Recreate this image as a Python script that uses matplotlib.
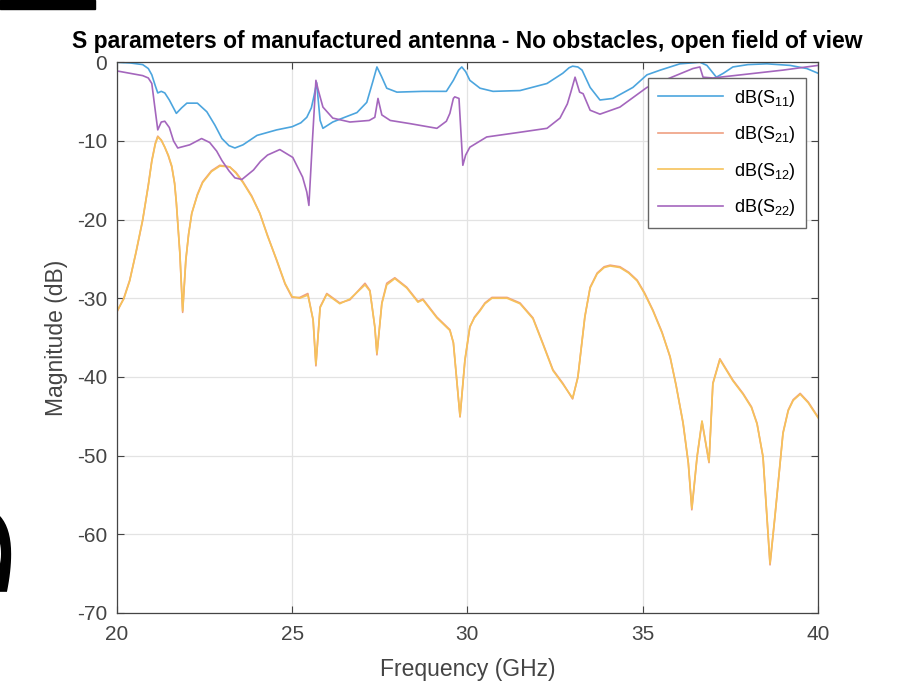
import matplotlib
matplotlib.use("Agg")
import matplotlib.pyplot as plt
from matplotlib.patches import Rectangle

plt.rcParams['font.family'] = ['Liberation Sans', 'DejaVu Sans']
plt.rcParams['mathtext.default'] = 'regular'
plt.rcParams['axes.unicode_minus'] = False

# S11
f_s11 = [20.0, 20.4, 20.74, 20.9, 21.0, 21.1, 21.17, 21.27, 21.37, 21.5, 21.7, 21.85,
         22.0, 22.3, 22.57, 22.8, 23.0, 23.2, 23.37, 23.6, 24.0, 24.56, 25.0, 25.25,
         25.42, 25.55, 25.63, 25.7, 25.75, 25.8, 25.88, 26.16, 26.5, 26.85, 27.13, 27.3,
         27.42, 27.55, 27.7, 27.99, 28.73, 29.4, 29.6, 29.75, 29.84, 29.95, 30.07, 30.36,
         30.73, 31.5, 32.27, 32.72, 32.9, 33.0, 33.15, 33.27, 33.5, 33.78, 34.15, 34.72,
         35.12, 35.5, 36.06, 36.63, 36.83, 37.1, 37.3, 37.57, 38.0, 38.54, 39.2, 39.68, 40.0]
s11 = [0.0, -0.1, -0.3, -0.8, -1.6, -3.0, -3.9, -3.7, -3.9, -4.8, -6.5, -5.8,
       -5.2, -5.2, -6.3, -8.0, -9.7, -10.6, -10.9, -10.5, -9.3, -8.6, -8.2, -7.7,
       -7.0, -5.8, -4.2, -2.6, -5.0, -7.4, -8.4, -7.6, -7.0, -6.4, -5.1, -2.5,
       -0.6, -1.8, -3.3, -3.8, -3.7, -3.7, -2.3, -1.0, -0.6, -1.2, -2.3, -3.3,
       -3.7, -3.6, -2.7, -1.4, -0.7, -0.5, -0.6, -1.0, -3.2, -4.8, -4.6, -3.2,
       -1.6, -1.0, -0.2, 0.0, -0.4, -1.9, -1.4, -0.6, -0.3, -0.2, -0.4, -0.8, -1.4]

# S22
f_s22 = [20.0, 20.74, 20.9, 21.0, 21.08, 21.17, 21.27, 21.37, 21.5, 21.62, 21.74, 22.08,
         22.42, 22.65, 22.85, 23.0, 23.2, 23.37, 23.57, 23.9, 24.1, 24.3, 24.65, 25.02,
         25.3, 25.42, 25.48, 25.58, 25.68, 25.75, 25.88, 26.16, 26.65, 27.2, 27.36, 27.45,
         27.56, 27.8, 28.36, 29.13, 29.4, 29.5, 29.6, 29.64, 29.76, 29.87, 29.95, 30.07,
         30.55, 31.5, 32.27, 32.64, 32.85, 32.95, 33.07, 33.2, 33.3, 33.5, 33.78, 34.35,
         35.12, 36.43, 36.63, 36.72, 37.0, 38.0, 39.0, 40.0]
s22 = [-1.1, -1.7, -2.0, -2.7, -5.5, -8.6, -7.6, -7.5, -8.3, -10.0, -10.9, -10.5,
       -9.7, -10.2, -11.3, -12.5, -13.8, -14.7, -14.9, -13.7, -12.6, -11.8, -11.1, -12.1,
       -14.6, -16.5, -18.2, -10.0, -2.3, -3.6, -5.7, -7.1, -7.6, -7.4, -7.0, -4.6,
       -6.7, -7.4, -7.8, -8.4, -7.5, -6.5, -4.6, -4.4, -4.6, -13.1, -11.8, -10.8,
       -9.5, -8.9, -8.4, -7.1, -5.3, -3.8, -1.9, -3.8, -4.0, -6.1, -6.6, -5.7,
       -3.2, -0.8, -0.6, -1.9, -2.0, -1.5, -1.0, -0.4]

# S21 and S12 (transmission, almost on top of each other)
f_s21 = [20.0, 20.2, 20.37, 20.55, 20.74, 20.9, 21.0, 21.1, 21.17, 21.27, 21.37, 21.47,
         21.57, 21.65, 21.7, 21.8, 21.88, 21.97, 22.05, 22.14, 22.3, 22.45, 22.7, 22.94,
         23.22, 23.4, 23.6, 23.85, 24.08, 24.3, 24.56, 24.8, 25.0, 25.22, 25.45, 25.6,
         25.68, 25.8, 25.99, 26.36, 26.65, 27.08, 27.22, 27.36, 27.42, 27.56, 27.7, 27.93,
         28.27, 28.59, 28.73, 29.13, 29.5, 29.6, 29.79, 29.93, 30.07, 30.2, 30.36, 30.5,
         30.7, 31.13, 31.5, 31.87, 32.15, 32.44, 32.72, 33.0, 33.15, 33.35, 33.5, 33.7,
         33.9, 34.07, 34.35, 34.6, 34.84, 35.05, 35.29, 35.55, 35.78, 35.95, 36.15, 36.3,
         36.4, 36.55, 36.69, 36.89, 37.0, 37.2, 37.57, 37.86, 38.1, 38.26, 38.43, 38.63,
         38.77, 39.0, 39.15, 39.29, 39.49, 39.72, 40.0]
s21 = [-31.8, -30.0, -27.7, -24.2, -20.1, -15.6, -12.5, -10.3, -9.4, -9.9, -10.8, -11.9,
       -13.3, -15.4, -17.9, -24.3, -31.8, -25.2, -21.8, -19.2, -16.8, -15.2, -13.8, -13.1,
       -13.3, -14.0, -15.2, -17.0, -19.2, -22.0, -25.2, -28.2, -29.9, -29.9, -29.4, -32.8,
       -38.6, -31.1, -29.4, -30.6, -30.2, -28.1, -29.0, -33.7, -37.2, -30.6, -28.1, -27.4,
       -28.6, -30.4, -30.1, -32.4, -34.0, -35.7, -45.1, -37.9, -33.7, -32.4, -31.5, -30.6,
       -29.9, -29.9, -30.6, -32.5, -35.7, -39.1, -40.8, -42.8, -40.0, -32.4, -28.6, -26.8,
       -26.0, -25.8, -26.0, -26.7, -27.7, -29.3, -31.5, -34.3, -37.5, -41.0, -45.9, -51.0,
       -56.9, -50.2, -45.7, -50.9, -40.8, -37.7, -40.4, -42.1, -43.8, -45.9, -50.2, -63.9,
       -57.8, -47.1, -44.2, -42.9, -42.1, -43.2, -45.1]
s12 = [-31.7, -30.1, -27.8, -24.1, -20.0, -15.7, -12.6, -10.4, -9.5, -9.9, -10.8, -11.8,
       -13.2, -15.4, -17.8, -24.2, -31.6, -25.1, -21.9, -19.2, -16.9, -15.3, -13.9, -13.2,
       -13.3, -14.1, -15.3, -17.1, -19.2, -22.1, -25.1, -28.1, -29.8, -30.0, -29.6, -32.7,
       -38.4, -31.2, -29.5, -30.7, -30.1, -28.3, -29.1, -33.6, -37.0, -30.7, -28.3, -27.5,
       -28.7, -30.5, -30.2, -32.5, -34.1, -35.6, -45.0, -37.8, -33.6, -32.5, -31.6, -30.7,
       -30.0, -30.0, -30.7, -32.6, -35.8, -39.2, -40.9, -42.7, -40.1, -32.3, -28.7, -26.9,
       -26.1, -25.9, -26.1, -26.8, -27.8, -29.4, -31.6, -34.4, -37.4, -41.1, -45.8, -50.9,
       -56.7, -50.1, -45.6, -50.8, -40.9, -37.8, -40.5, -42.2, -43.9, -46.0, -50.1, -63.7,
       -57.7, -47.2, -44.3, -43.0, -42.2, -43.3, -45.2]

fig = plt.figure(figsize=(9.12, 6.84), dpi=100)
ax = fig.add_axes([0.128, 0.104, 0.769, 0.805])

ax.plot(f_s11, s11, color='#4ca5de', lw=1.2, label='dB(S$_{11}$)')
ax.plot(f_s21, s21, color='#ef9f82', lw=1.2, label='dB(S$_{21}$)')
ax.plot(f_s21, s12, color='#f6c25a', lw=1.2, label='dB(S$_{12}$)')
ax.plot(f_s22, s22, color='#a466bd', lw=1.2, label='dB(S$_{22}$)')

ax.set_xlim(20, 40)
ax.set_ylim(-70, 0)
ax.set_xticks([20, 25, 30, 35, 40])
ax.set_yticks(range(-70, 1, 10))
ax.grid(True, color='#e3e3e3', lw=0.9)
ax.tick_params(direction='in', top=True, right=True, labelsize=15, colors='#444444',
               length=5)
ax.tick_params(axis='x', pad=9)
ax.tick_params(axis='y', pad=7)
for s in ax.spines.values():
    s.set_color('#444444')
    s.set_linewidth(0.9)

ax.set_title('S parameters of manufactured antenna - No obstacles, open field of view',
             fontsize=16.5, fontweight='bold', pad=10)
ax.set_xlabel('Frequency (GHz)', fontsize=16.5, color='#444444', labelpad=10)
ax.set_ylabel('Magnitude (dB)', fontsize=16.5, color='#444444', labelpad=6)

leg = ax.legend(loc='upper right', bbox_to_anchor=(0.995, 0.988), fontsize=13,
                fancybox=False, framealpha=1, edgecolor='#666666',
                handlelength=3.6, handletextpad=0.6, borderpad=0.55, labelspacing=0.85)
leg.get_frame().set_linewidth(1.0)

# bits of the surrounding slide
fig.patches.append(Rectangle((0, 1 - 9 / 684), 95 / 912, 9 / 684,
                             transform=fig.transFigure, color='black'))
fig.text(0.006, 0.178, 'S', rotation=270, fontsize=150, fontweight='bold',
         family='Liberation Serif', color='black', ha='right', va='center')

fig.savefig('out.png', dpi=100)
